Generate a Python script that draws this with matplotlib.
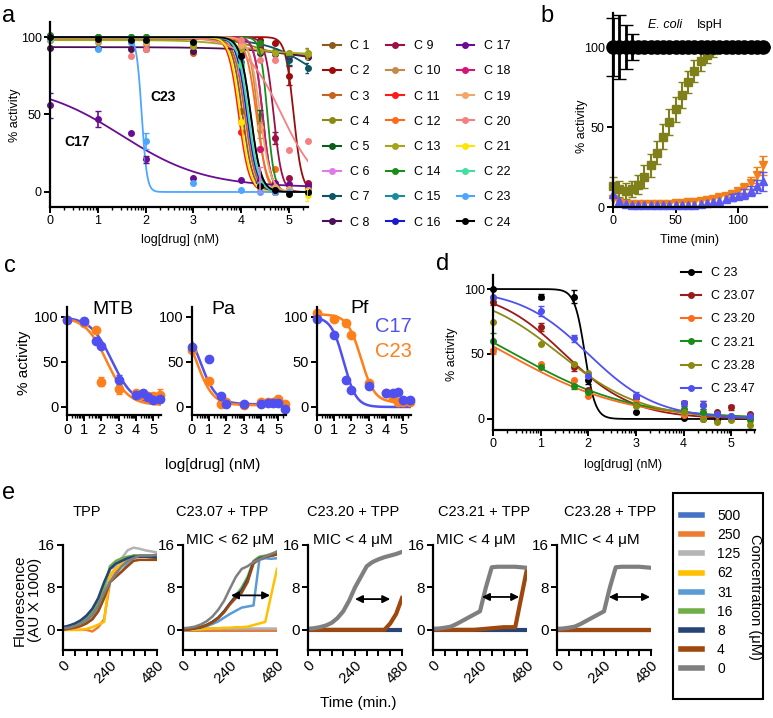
import numpy as np
import matplotlib
matplotlib.use('Agg')
import matplotlib.pyplot as plt
from matplotlib.lines import Line2D
from matplotlib import patches

plt.rcParams['font.family'] = ['Liberation Sans', 'DejaVu Sans']

W, H = 773, 718

# ---------------- panel a: 24 compounds ----------------
DOSE = [0, 1, 1.7, 2, 3, 4, 4.4, 4.7, 5, 5.4]
A_NAMES = ['C 1', 'C 2', 'C 3', 'C 4', 'C 5', 'C 6', 'C 7', 'C 8',
           'C 9', 'C 10', 'C 11', 'C 12', 'C 13', 'C 14', 'C 15', 'C 16',
           'C 17', 'C 18', 'C 19', 'C 20', 'C 21', 'C 22', 'C 23', 'C 24']
A_COLORS = ['#8c5a1e', '#9b0d0d', '#c8621e', '#8a8a12', '#0b5e1b', '#e07be6', '#0b5565', '#4a0f57',
            '#9c1045', '#c58a4a', '#ff1a1a', '#ff6a1a', '#a5a51a', '#1a8c1a', '#1a8ca0', '#1a1acc',
            '#6a0d91', '#d4147a', '#f2a66a', '#f58080', '#ffe600', '#40e0a0', '#4da6ff', '#000000']
# 4-parameter fit: top, bottom, logIC50, hill slope
A_TOP = [100, 100, 99, 99, 100, 100, 99, 93.5, 100, 99, 100, 100, 98, 100, 100, 100,
         70, 100, 100, 100, 100, 100, 100, 100]
A_BOTTOM = [0, 0, 0, 88, 0, 0, 60, 80, 0, 0, 0, 0, 89, 0, 0, 0,
            3, 0, 0, 0, 0, 0, 0, 0]
A_IC50 = [4.03, 5.1, 4.08, 4.3, 4.45, 4.15, 5.5, 5.5, 4.68, 4.35, 3.95, 4.32, 4.0, 4.55, 4.2, 4.12,
          1.5, 4.45, 4.4, 4.85, 3.98, 4.15, 1.92, 4.2]
A_HILL = [4, 5, 4, 1.5, 5, 4, 0.9, 0.6, 5, 5, 4, 4, 1, 6, 4, 4,
          0.5, 5, 4, 1.1, 4, 4, 8, 4]
A_POINTS = [
    [100, 99, 99, 98, 96, 52, 2, 0, 1, 2],
    [100, 100, 99, 99, 98, 99, 98, 96, 75, 5],
    [98, 98, 97, 96, 90, 45, 3, 1, 0, 0],
    [99, 98, 98, 97, 95, 94, 93, 91, 90, 90],
    [100, 100, 100, 100, 98, 97, 49, 3, 1, 0],
    [100, 99, 99, 98, 97, 78, 8, 1, 0, 0],
    [99, 99, 98, 98, 97, 94, 92, 90, 85, 80],
    [93, 93, 92, 92, 91, 90, 90, 89, 88, 87],
    [100, 99, 99, 99, 98, 97, 95, 35, 9, 6],
    [99, 98, 98, 97, 97, 94, 40, 2, 1, 1],
    [100, 99, 99, 98, 97, 39, 2, 0, 0, 0],
    [100, 99, 99, 98, 97, 96, 28, 15, 2, 1],
    [98, 97, 97, 96, 94, 92, 91, 90, 89, 89],
    [101, 100, 100, 100, 99, 99, 96, 5, 1, 0],
    [99, 99, 98, 98, 97, 84, 6, 1, 0, 0],
    [100, 99, 99, 98, 97, 88, 3, 0, 0, 0],
    [56, 47, 38, 21, 9, 8, 8, 6, 5, 4],
    [100, 99, 99, 99, 98, 96, 28, 2, 1, 1],
    [99, 98, 98, 97, 97, 95, 42, 3, 2, 1],
    [99, 98, 88, 92, 97, 98, 85, 85, 27, 33],
    [100, 99, 99, 98, 97, 45, 1, 0, 0, -2],
    [99, 99, 98, 98, 97, 82, 5, 1, 0, 0],
    [100, 92, 97, 33, 6, 1, 0, 0, 0, 0],
    [100, 99, 98, 98, 97, 88, 4, 1, -1, 0],
]
# (compound index, dose index, error)
A_ERRORS = [(16, 0, 8), (16, 1, 5), (16, 3, 2), (22, 3, 5), (1, 8, 6), (8, 7, 4), (4, 6, 4),
            (6, 8, 3), (6, 9, 3), (3, 9, 3), (12, 9, 3), (20, 9, 4), (5, 6, 8), (9, 6, 5)]

# ---------------- panel b: E. coli IspH time course ----------------
B_TIME = [0, 5, 10, 15, 20, 25, 30, 35, 40, 45, 50, 55, 60, 65, 70, 75, 80, 85, 90, 95, 100, 105, 110, 115, 120]
B_BLACK = [100] * 25
B_BLACK_ERR = [18, 20, 14, 8, 0, 0, 0, 0, 0, 0, 0, 0, 0, 0, 0, 0, 0, 0, 0, 0, 0, 0, 0, 0, 0]
B_OLIVE = [13, 11, 10, 11, 14, 19, 26, 34, 44, 53, 61, 70, 78, 85, 91, 95, 98, 100, 100, 100, 100, 100, 100, 100, 100]
B_OLIVE_ERR = [6, 5, 5, 5, 6, 7, 7, 7, 8, 8, 8, 8, 7, 7, 6, 5, 4, 3, 3, 3, 3, 3, 3, 3, 3]
B_ORANGE = [5, 3, 2, 2, 2, 2, 2, 2, 2, 2, 2.5, 2.5, 3, 3, 4, 4.5, 5, 6, 7, 8, 10, 12, 15, 20, 26]
B_BLUE = [8, 4, 2, 1, 1, 1, 1, 1, 1, 1, 1, 1.5, 1.5, 1.5, 2, 2.5, 3, 4, 5, 6, 7, 8, 10, 13, 16]

# ---------------- panel c: MTB / Pa / Pf ----------------
C_TITLES = ['MTB', 'Pa', 'Pf']
C17_POINTS = [[97, 95, 73, 68, 30, 13, 15, 11, 8, 9],
              [67, 53, 12, 3, 3, 3, 4, 4, 4, -2],
              [98, 80, 30, 19, 23, 15, 16, 17, 8, 8]]
C23_POINTS = [[97, 93, 86, 28, 20, 15, 14, 12, 12, 13],
              [63, 29, 3, 5, 2, 5, 5, 6, 9, 3],
              [104, 98, 93, 80, 27, 16, 10, 5, 5, 6]]
C17_ERR = [[0, 4, 0, 0, 6, 2, 3, 0, 0, 0], [0] * 10, [0] * 10]
C23_ERR = [[0, 0, 0, 5, 6, 3, 5, 0, 3, 7], [0] * 10, [0] * 10]
C17_FIT = [(100, 3, 2.6, 0.7), (100, 3, 0.45, 0.9), (100, 0, 1.55, 1.2)]
C23_FIT = [(100, 2, 2.3, 0.7), (100, 2, 0.25, 0.9), (103, 5, 2.55, 1.1)]

# ---------------- panel d: C23 analogues ----------------
D_NAMES = ['C 23', 'C 23.07', 'C 23.20', 'C 23.21', 'C 23.28', 'C 23.47']
D_COLORS = ['#000000', '#9b1a1a', '#ff6a1a', '#1a8c1a', '#8a8a12', '#5050f0']
D_POINTS = [[100, 94, 94, 30, 5, 1, 0, 0, 0, 0],
            [90, 71, 40, 22, 17, 12, 11, 5, 9, 4],
            [52, 42, 30, 18, 13, 3, 1, 3, 0, 0],
            [60, 40, 25, 21, 11, 8, 5, 4, 2, 0],
            [75, 58, 42, 35, 10, 5, 0, -2, -1, -5],
            [94, 83, 62, 33, 18, 12, 11, 4, 2, 2]]
D_ERR = [[0, 2, 5, 3, 0, 0, 0, 0, 0, 0],
         [2, 3, 3, 0, 2, 2, 3, 0, 2, 0],
         [2, 0, 0, 0, 0, 0, 0, 0, 0, 0],
         [6, 0, 2, 0, 0, 0, 0, 0, 0, 0],
         [0, 0, 0, 0, 0, 0, 0, 0, 0, 3],
         [0, 4, 3, 0, 3, 2, 3, 0, 0, 0]]
D_FIT = [(100, 0, 1.93, 4), (100, 0, 1.5, 0.6), (100, 0, 0.3, 0.35),
         (100, 0, 0.45, 0.35), (100, 0, 1.4, 0.5), (100, 0, 2.0, 0.6)]

# ---------------- panel e: growth curves ----------------
E_TIME = [0, 30, 60, 90, 120, 150, 180, 210, 240, 270, 300, 330, 360, 390, 420, 450, 480]
E_CONC = ['500', '250', '125', '62', '31', '16', '8', '4', '0']
E_COLORS = ['#4472c4', '#ed7d31', '#b4b4b4', '#ffc000', '#5b9bd5', '#70ad47', '#264478', '#9e480e', '#7f7f7f']
E_TITLES = ['TPP', 'C23.07 + TPP', 'C23.20 + TPP', 'C23.21 + TPP', 'C23.28 + TPP']
E_MIC = ['', 'MIC < 62 \u03bcM', 'MIC < 4 \u03bcM', 'MIC < 4 \u03bcM', 'MIC < 4 \u03bcM']
Z = [0] * 17
E_TPP = [
    [0.5, 0.7, 1.0, 1.5, 2.3, 3.5, 5.5, 8.5, 11.5, 12.3, 13, 13.5, 14, 14, 14, 13.9, 13.8],
    [0, 0, 0, 0, 0, -0.3, 0.5, 2, 9, 11, 12, 13, 13.5, 13.8, 13.8, 13.7, 13.5],
    [0.3, 0.4, 0.6, 1, 1.5, 2.5, 4, 7, 10, 12, 13.5, 15, 15.5, 15.3, 15, 14.8, 14.6],
    [0, 0, 0, 0, 0.2, 0.5, 1, 1.5, 10.5, 11.5, 12.5, 13, 13.5, 14, 14, 13.8, 13.6],
    [0.2, 0.3, 0.5, 0.8, 1.3, 2, 3.5, 6, 9, 10, 11, 12.5, 13.5, 14, 14, 14, 13.8],
    [0.3, 0.5, 0.8, 1.3, 2, 3.2, 5, 8, 12, 13, 13.5, 13.8, 14, 14, 14, 14, 14],
    [0.5, 0.8, 1.2, 1.8, 2.7, 4, 6, 9, 11.5, 12.5, 13, 13.5, 13.8, 13.8, 13.8, 13.7, 13.6],
    [0, 0.2, 0.4, 0.7, 1.2, 2, 3.5, 6, 9, 10, 11, 12, 13, 13.2, 13.2, 13.2, 13.2],
    [0.3, 0.4, 0.7, 1.1, 1.8, 2.8, 4.5, 7, 9, 10.5, 12, 13, 13.5, 14, 14, 14, 14.2],
]
E_C2307 = [
    Z, Z,
    [0.3] * 17,
    [0, 0, 0, 0.1, 0.2, 0.3, 0.3, 0.4, 0.4, 0.5, 0.5, 0.6, 0.9, 1.2, 1.5, 6.5, 11.5],
    [0, 0.1, 0.2, 0.4, 0.7, 1.1, 1.6, 2.3, 3, 3.6, 4.2, 4.4, 4.6, 13.2, 13.5, 13.4, 13.5],
    [0, 0.1, 0.3, 0.5, 0.9, 1.5, 2.3, 3.5, 5, 6.5, 8, 10, 13, 13.8, 14, 14.3, 14.5],
    [0, 0.1, 0.3, 0.5, 0.9, 1.5, 2.3, 3.5, 5, 6.3, 7.5, 9.5, 12.8, 13.5, 13.8, 14, 14.2],
    [0, 0.1, 0.3, 0.5, 0.9, 1.4, 2.2, 3.3, 4.8, 6, 7, 9, 12.5, 13.3, 13.7, 14, 14.2],
    [0.3, 0.4, 0.6, 1, 1.6, 2.5, 3.8, 5.5, 7.8, 10, 11.5, 12, 12.8, 13.3, 13.8, 14.3, 14.8],
]
E_C2320 = [
    Z, Z, Z, Z, Z, Z, Z,
    [0, 0, 0, 0, 0, 0, 0, 0, 0, 0, 0, 0, 0, 0, 1.2, 3, 6],
    [0.2, 0.3, 0.5, 0.8, 1.3, 2.2, 3.5, 5.5, 8, 10, 12, 12.8, 13.3, 13.7, 14, 14.3, 14.7],
]
E_C2321 = [
    Z, Z, Z, Z, Z, Z, Z,
    [0, 0, 0, 0, 0, 0, 0, 0, 0.1, 0.2, 0.3, 0.4, 0.5, 0.5, 0.5, 6, 11.5],
    [0.2, 0.25, 0.4, 0.6, 1.1, 1.7, 2.3, 2.9, 3.5, 8, 11.8, 11.9, 11.9, 11.9, 11.9, 11.8, 11.7],
]
E_C2328 = [
    Z, Z, Z, Z, Z, Z, Z, Z,
    [0.2, 0.25, 0.4, 0.6, 1.1, 1.7, 2.3, 2.9, 3.5, 8, 11.8, 11.9, 11.9, 11.9, 11.9, 11.8, 11.7],
]
E_ARROWS = [None, (245, 445, 6.5), (240, 420, 5.8), (250, 440, 6.2), (265, 475, 6.2)]

fig = plt.figure(figsize=(W / 100, H / 100), dpi=100)


def add_ax(x0, y0, x1, y1):
    return fig.add_axes([x0 / W, 1 - y1 / H, (x1 - x0) / W, (y1 - y0) / H])


def ftext(x, y, s, **kw):
    kw.setdefault('ha', 'center')
    kw.setdefault('va', 'center')
    fig.text(x / W, 1 - y / H, s, **kw)


def hill(x, top, bottom, ic, h):
    return bottom + (top - bottom) / (1 + 10 ** ((x - ic) * h))


def prism(ax, fs, lw=1.6):
    for s in ['top', 'right']:
        ax.spines[s].set_visible(False)
    for s in ['left', 'bottom']:
        ax.spines[s].set_linewidth(lw)
    ax.tick_params(width=1.4, length=4, labelsize=fs, direction='out', pad=2)


def log_minor(ax, xmax):
    ax.set_xticks([k + np.log10(m) for k in range(6) for m in range(2, 10) if k + np.log10(m) <= xmax],
                  minor=True)
    ax.tick_params(which='minor', length=2.5, width=1)


xs = np.linspace(0, 5.45, 400)

# ---- a ----
ax = add_ax(50, 22, 308, 207)
prism(ax, 9)
ax.set_xlim(0, 5.4)
ax.set_ylim(-9.7, 109.7)
for i in range(len(A_NAMES)):
    c = A_COLORS[i]
    ax.plot(xs, hill(xs, A_TOP[i], A_BOTTOM[i], A_IC50[i], A_HILL[i]), color=c, lw=1.3)
    ax.plot(DOSE, A_POINTS[i], 'o', color=c, ms=4, clip_on=False)
for ci, di, e in A_ERRORS:
    ax.errorbar(DOSE[di], A_POINTS[ci][di], yerr=e, color=A_COLORS[ci], lw=1.2, capsize=2.5, fmt='none')
ax.set_xticks([0, 1, 2, 3, 4, 5])
ax.set_yticks([0, 50, 100])
log_minor(ax, 5.4)
ax.text(2.37, 61, 'C23', fontsize=10, fontweight='bold', ha='center', va='center')
ax.text(0.57, 32, 'C17', fontsize=10, fontweight='bold', ha='center', va='center')
ftext(180, 240, 'log[drug] (nM)', fontsize=9)
ftext(15, 115, '% activity', fontsize=9, rotation=90)
handles = [Line2D([], [], color=c, marker='o', ms=4, lw=1.5) for c in A_COLORS]
fig.legend(handles, A_NAMES, loc='upper left', bbox_to_anchor=(323 / W, 1 - 40 / H), ncol=3,
           frameon=False, fontsize=9, handlelength=1.4, handletextpad=0.8, labelspacing=1.06,
           columnspacing=1.3, borderpad=0, borderaxespad=0)

# ---- b ----
ax = add_ax(613, 13, 767, 207)
prism(ax, 9)
ax.set_xlim(0, 123.2)
ax.set_ylim(0, 121.25)
ax.errorbar(B_TIME, B_OLIVE, yerr=B_OLIVE_ERR, color='#80801a', fmt='s', ms=6, lw=1.5, capsize=3,
            clip_on=False)
ax.errorbar(B_TIME[-6:], B_ORANGE[-6:], yerr=[2, 2, 3, 4, 5, 6], color='#f57f17', fmt='none',
            lw=1.5, capsize=3)
ax.plot(B_TIME, B_ORANGE, 'v', color='#f57f17', ms=6, clip_on=False)
ax.errorbar(B_TIME[-6:], B_BLUE[-6:], yerr=[2, 2, 3, 3, 4, 6], color='#5a5af0', fmt='none',
            lw=1.5, capsize=3)
ax.plot(B_TIME, B_BLUE, '^', color='#5a5af0', ms=6, clip_on=False)
ax.errorbar(B_TIME, B_BLACK, yerr=B_BLACK_ERR, color='k', fmt='o', ms=9.5, lw=2, capsize=5, clip_on=False)
ax.set_xticks([0, 50, 100])
ax.set_yticks([0, 50, 100])
ftext(648, 25, 'E. coli', fontsize=9, ha='left', style='italic')
ftext(697, 25, 'IspH', fontsize=9, ha='left')
ftext(582, 126, '% activity', fontsize=9, rotation=90)
ftext(690, 240, 'Time (min)', fontsize=9)

# ---- c ----
c_lefts = [67, 192, 317]
for k in range(3):
    ax = add_ax(c_lefts[k], 307, c_lefts[k] + 94, 415)
    prism(ax, 10.5)
    ax.set_xlim(0, 5.45)
    ax.set_ylim(-8.9, 111.1)
    f17, f23 = C17_FIT[k], C23_FIT[k]
    ax.plot(xs, hill(xs, *f17), color='#5050f0', lw=1.8)
    ax.plot(xs, hill(xs, *f23), color='#ff7f1a', lw=1.8)
    ax.errorbar(DOSE, C23_POINTS[k], yerr=C23_ERR[k], color='#ff7f1a', fmt='o', ms=6, lw=1.5,
                capsize=2.5, clip_on=False)
    ax.errorbar(DOSE, C17_POINTS[k], yerr=C17_ERR[k], color='#5050f0', fmt='o', ms=6, lw=1.5,
                capsize=2.5, clip_on=False)
    ax.set_xticks([0, 1, 2, 3, 4, 5])
    ax.set_yticks([0, 50, 100])
    log_minor(ax, 5.45)
ftext(113, 310, 'MTB', fontsize=14)
ftext(223, 310, 'Pa', fontsize=14)
ftext(360, 309, 'Pf', fontsize=14)
ftext(393, 326, 'C17', fontsize=14.5, color='#5050f0')
ftext(393, 352, 'C23', fontsize=14.5, color='#ff7f1a')
ftext(24, 363, '% activity', fontsize=11, rotation=90)
ftext(213, 465, 'log[drug] (nM)', fontsize=11)

# ---- d ----
ax = add_ax(493, 275, 755, 430)
prism(ax, 9)
ax.set_xlim(0, 5.5)
ax.set_ylim(-8.5, 110.8)
for i in range(len(D_NAMES)):
    ax.plot(xs, hill(xs, *D_FIT[i]), color=D_COLORS[i], lw=1.3)
    ax.errorbar(DOSE, D_POINTS[i], yerr=D_ERR[i], color=D_COLORS[i], fmt='o', ms=4, lw=1.2,
                capsize=2.5, clip_on=False)
ax.set_xticks([0, 1, 2, 3, 4, 5])
ax.set_yticks([0, 50, 100])
log_minor(ax, 5.5)
ftext(452, 354, '% activity', fontsize=9, rotation=90)
ftext(623, 465, 'log[drug] (nM)', fontsize=9)
handles = [Line2D([], [], color=c, marker='o', ms=4, lw=1.5) for c in D_COLORS]
fig.legend(handles, D_NAMES, loc='upper left', bbox_to_anchor=(681 / W, 1 - 267 / H), frameon=False,
           fontsize=9, handlelength=1.6, handletextpad=0.8, labelspacing=0.9, borderpad=0,
           borderaxespad=0)

# ---- e ----
e_lefts = [63, 183, 308, 433, 557]
e_sets = [E_TPP, E_C2307, E_C2320, E_C2321, E_C2328]
e_centers = [87, 222, 353, 484, 610]
mic_centers = [0, 230, 353, 476, 600]
for k in range(5):
    ax = add_ax(e_lefts[k], 545, e_lefts[k] + 94, 650)
    prism(ax, 11)
    ax.set_xlim(0, 480)
    ax.set_ylim(-3.8, 16)
    thick = 1.8 if k < 2 else 3.0
    for j, series in enumerate(e_sets[k]):
        lw = thick if (k < 2 or j >= 6) else 2.0
        ax.plot(E_TIME, series, color=E_COLORS[j], lw=lw, solid_joinstyle='round')
    ax.set_xticks(range(0, 481, 60))
    ax.set_xticklabels(['0', '', '', '', '240', '', '', '', '480'], rotation=45, ha='right',
                       va='top', rotation_mode='anchor')
    ax.set_yticks([0, 8, 16])
    if E_ARROWS[k]:
        t0, t1, y = E_ARROWS[k]
        ax.annotate('', xy=(t1, y), xytext=(t0, y),
                    arrowprops=dict(arrowstyle='<|-|>', color='k', lw=1.3, mutation_scale=11,
                                    shrinkA=0, shrinkB=0))
    ftext(e_centers[k], 512, E_TITLES[k], fontsize=10.5)
    if E_MIC[k]:
        ftext(mic_centers[k], 540, E_MIC[k], fontsize=11)
ftext(27, 600, 'Fluorescence\n(AU X 1000)', fontsize=11, rotation=90, linespacing=1.1)
ftext(358, 703, 'Time (min.)', fontsize=11)

handles = [Line2D([], [], color=c, lw=4) for c in E_COLORS]
fig.legend(handles, E_CONC, loc='upper left', bbox_to_anchor=(681 / W, 1 - 509 / H), frameon=False,
           fontsize=10, handlelength=1.5, handletextpad=1.1, labelspacing=0.37, borderpad=0,
           borderaxespad=0)
fig.add_artist(patches.Rectangle((673 / W, 1 - 699 / H), 90 / W, 206 / H, transform=fig.transFigure,
                                 fill=False, lw=1.5, ec='k'))
ftext(755, 597, 'Concentration (\u03bcM)', fontsize=10.5, rotation=270)

# panel letters
ftext(9, 16, 'a', fontsize=17)
ftext(547, 16, 'b', fontsize=17)
ftext(10, 266, 'c', fontsize=17)
ftext(443, 264, 'd', fontsize=17)
ftext(9, 493, 'e', fontsize=17)

fig.savefig('out.png', dpi=100)
